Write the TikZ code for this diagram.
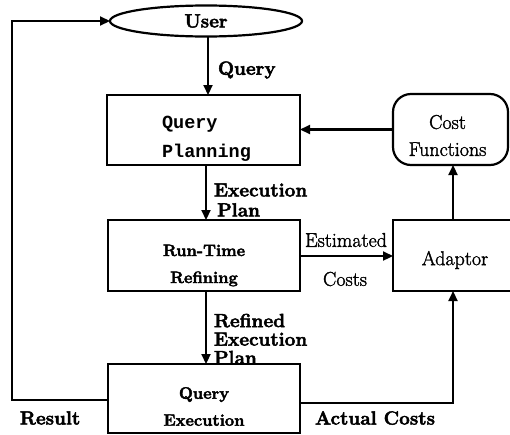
\documentclass[tikz,border=0pt]{standalone}
\usepackage{fontspec}
\newfontfamily\monobold{Liberation Mono}[BoldFont={Liberation Mono Bold}]
\newfontfamily\heavyrm{Latin Modern Roman}[FakeBold=2.5]
\newfontfamily\softrm{Latin Modern Roman}[FakeBold=1.6]
\usetikzlibrary{shapes.geometric,arrows.meta}
\tikzset{
  every node/.style={inner sep=0pt, outer sep=0pt},
  flow/.style={line width=2.2pt, -{Triangle[length=10pt,width=9pt]}},
  box/.style={draw, line width=2.2pt, rectangle},
  lbl/.style={font=\heavyrm\fontsize{19}{21}\selectfont\bfseries, align=left},
  plain/.style={font=\softrm\fontsize{20}{22}\selectfont},
  boxtext/.style={font=\heavyrm\fontsize{16.5}{27}\selectfont\bfseries, align=center}
}
\begin{document}
\begin{tikzpicture}[x=1pt, y=-1pt]
\useasboundingbox (0,0) rectangle (510,434);

% main processing chain
\node[draw, line width=2.2pt, ellipse, minimum width=192pt, minimum height=31pt,
      font=\heavyrm\fontsize{19}{21}\selectfont\bfseries] (user) at (206,21) {User};
\node[box, minimum width=193pt, minimum height=70pt] (qp) at (203.5,130) {};
\node[box, minimum width=192pt, minimum height=71pt] (rt) at (204,255.5) {};
\node[box, minimum width=192pt, minimum height=69pt] (qe) at (204,398.5) {};

% cost model side
\node[box, rounded corners=18pt, minimum width=115pt, minimum height=71pt] (cf) at (450.5,129.5) {};
\node[box, minimum width=130pt, minimum height=71pt] (ad) at (458,255.5) {};

% box captions
\node[align=left, font=\monobold\fontsize{18.5}{29}\selectfont\bfseries]
     (qpt) at ([xshift=3pt,yshift=-9pt]qp.center) {Query\\Planning};
\node[boxtext] (rtt) at ([yshift=-10pt]rt.center) {Run-Time\\Refining};
\node[boxtext] (qet) at ([yshift=-8pt]qe.center) {Query\\Execution};
\node[plain, align=center, font=\softrm\fontsize{20}{27}\selectfont]
     (cft) at ([xshift=-3pt,yshift=-6pt]cf.center) {Cost\\Functions};
\node[plain] (adt) at (455,260) {Adaptor};

% helper points for the feedback paths
\coordinate (loopL) at (12,21);
\coordinate (resL) at (12,400);
\coordinate (actR) at (453,403);

% connectors
\draw[flow] (user.south -| 208,0) -- (qp.north -| 208,0);
\draw[flow] (qp.south -| 206,0) -- (rt.north -| 206,0);
\draw[flow] (rt.south -| 206,0) -- (qe.north -| 206,0);
\draw[flow] (cf.west) -- (qp.east |- cf.west);
\draw[flow] (rt.east |- 0,256) -- (ad.west |- 0,256);
\draw[flow] (ad.north -| 453,0) -- (cf.south -| 453,0);
\draw[flow] (qe.west |- resL) -- (resL) -- (loopL) -- (user.west);
\draw[flow] (qe.east |- actR) -- (actR) -- (ad.south -| actR);

% connector labels
\node[lbl, anchor=west] (lq) at (218,70) {Query};
\node[lbl, anchor=west, font=\heavyrm\fontsize{19}{20}\selectfont\bfseries] (lep) at (214,200) {Execution\\\,Plan};
\node[lbl, anchor=west, font=\heavyrm\fontsize{19}{18.5}\selectfont\bfseries] (lrep) at (214,339) {Refined\\Execution\\Plan};
\node[plain] (lest) at (346,240) {Estimated};
\node[plain] (lcost) at (345,279) {Costs};
\node[lbl, anchor=west] (lres) at (20,418) {Result};
\node[lbl, anchor=west] (lact) at (315,418) {Actual Costs};
\end{tikzpicture}
\end{document}
